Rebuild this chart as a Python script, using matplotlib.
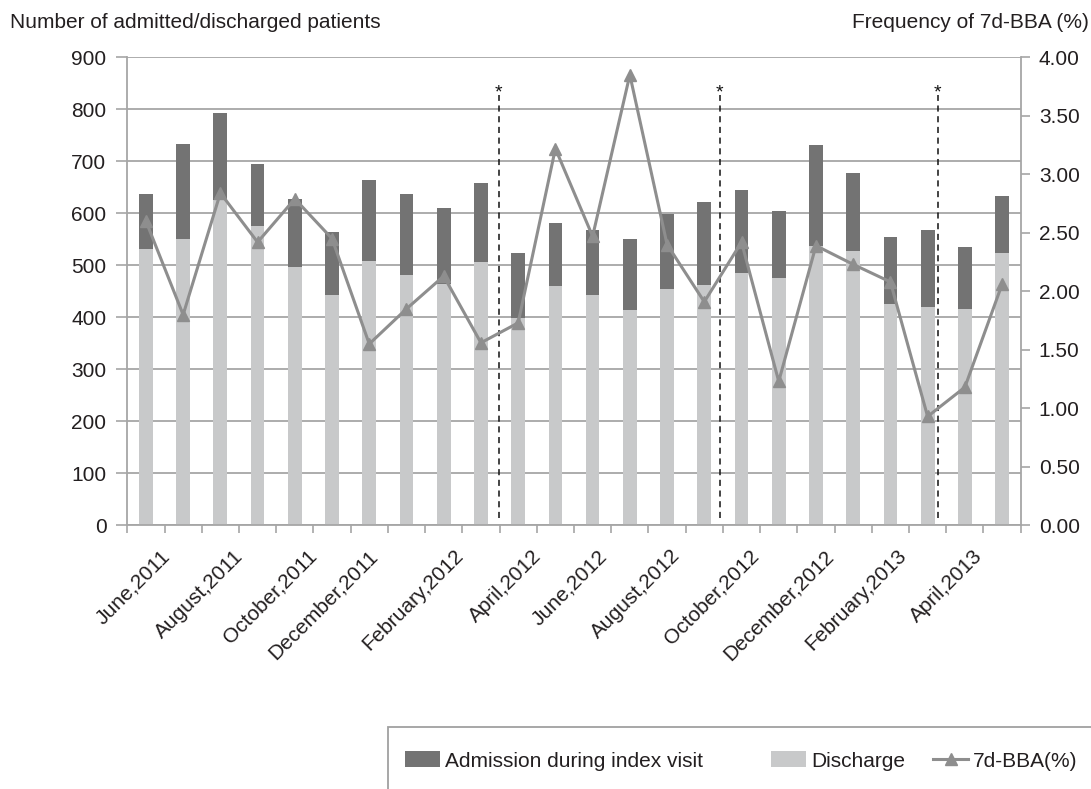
import matplotlib
matplotlib.use("Agg")
import matplotlib.pyplot as plt
from matplotlib.patches import Patch, Rectangle
from matplotlib.lines import Line2D
from matplotlib.transforms import ScaledTranslation
import numpy as np

plt.rcParams['font.family'] = ['Liberation Sans', 'DejaVu Sans']

months = ['June,2011', 'July,2011', 'August,2011', 'September,2011', 'October,2011',
          'November,2011', 'December,2011', 'January,2012', 'February,2012', 'March,2012',
          'April,2012', 'May,2012', 'June,2012', 'July,2012', 'August,2012',
          'September,2012', 'October,2012', 'November,2012', 'December,2012',
          'January,2013', 'February,2013', 'March,2013', 'April,2013', 'May,2013']
discharge = [531, 551, 626, 576, 496, 443, 509, 481, 464, 506, 399, 461,
             443, 414, 454, 463, 486, 476, 537, 528, 426, 420, 416, 523]
admission = [106, 182, 167, 119, 132, 122, 156, 156, 146, 152, 124, 121,
             125, 137, 145, 159, 159, 129, 195, 149, 129, 148, 119, 110]
bba = [2.60, 1.80, 2.84, 2.42, 2.79, 2.45, 1.55, 1.85, 2.13, 1.56, 1.73, 3.22,
       2.47, 3.85, 2.40, 1.91, 2.42, 1.23, 2.39, 2.23, 2.08, 0.93, 1.18, 2.06]
shown_labels = ['June,2011', 'August,2011', 'October,2011', 'December,2011',
                'February,2012', 'April,2012', 'June,2012', 'August,2012',
                'October,2012', 'December,2012', 'February,2013', 'April,2013']
left_ticks = [0, 100, 200, 300, 400, 500, 600, 700, 800, 900]
right_ticks = [0.0, 0.5, 1.0, 1.5, 2.0, 2.5, 3.0, 3.5, 4.0]
intervention_x = [9.48, 15.41, 21.27]

# small per-label horizontal nudges (pixels) to mimic the original label placement
label_dx = [-4, -6, -6, -20, -9, -5, -14, -15, -11, -11, -12, -11]

W, H = 1091, 789
fig = plt.figure(figsize=(W / 100, H / 100), dpi=100)
ax = fig.add_axes([127.3 / W, 1 - 525.3 / H, (1020.7 - 127.3) / W, (525.3 - 57.3) / H])

DARK = '#737373'
LIGHT = '#c8c9ca'
LINEC = '#8e8e8e'
GRID = '#a6a6a6'
TXT = '#231f20'
FS = 15

x = np.arange(len(months))
ax.bar(x, discharge, width=0.37, color=LIGHT, zorder=2)
ax.bar(x, admission, width=0.37, bottom=discharge, color=DARK, zorder=2)

ax.set_xlim(-0.5, len(months) - 0.5)
ax.set_ylim(0, 900)
ax.set_yticks(left_ticks)
ax.set_yticklabels([str(v) for v in left_ticks], fontsize=FS, color=TXT)
ax.yaxis.grid(True, color=GRID, linewidth=1.3, zorder=0)
ax.set_axisbelow(True)

boundaries = np.arange(-0.5, len(months), 1.0)
ax.set_xticks(boundaries)
lbls = []
for b in boundaries:
    i = int(round(b - 0.5))
    if 0 <= i < len(months) and months[i] in shown_labels:
        lbls.append(months[i])
    else:
        lbls.append('')
ax.set_xticklabels(lbls, rotation=45, ha='right', va='top', rotation_mode='anchor',
                   fontsize=FS, color=TXT)
ax.tick_params(axis='x', direction='out', length=6, width=1.2, color=GRID, pad=9)
ax.tick_params(axis='y', direction='out', length=8, width=1.2, color=GRID, pad=7)

k = 0
for t in ax.get_xticklabels():
    if t.get_text():
        t.set_transform(t.get_transform() +
                        ScaledTranslation(label_dx[k] / 100, 0, fig.dpi_scale_trans))
        k += 1

for s in ['left', 'bottom', 'right']:
    ax.spines[s].set_color(GRID)
    ax.spines[s].set_linewidth(1.3)
ax.spines['top'].set_visible(False)

for xv in intervention_x:
    ax.plot([xv, xv], [15, 828], linestyle=(0, (4, 3)), color='#111111', linewidth=1.1, zorder=3)
    ax.text(xv, 822, '*', ha='center', va='baseline', fontsize=14, color='#111111', zorder=3)

ax2 = ax.twinx()
ax2.set_ylim(0, 4)
ax2.set_yticks(right_ticks)
ax2.set_yticklabels(['%.2f' % v for v in right_ticks], fontsize=FS, color=TXT)
ax2.tick_params(axis='y', direction='out', length=6.5, width=1.2, color=GRID, pad=6.5)
for s in ax2.spines.values():
    s.set_visible(False)
ax2.plot(x, bba, color=LINEC, linewidth=2.2, marker='^', markersize=9,
         markerfacecolor=LINEC, markeredgecolor=LINEC, zorder=5)

fig.text(10 / W, 1 - 28.3 / H, 'Number of admitted/discharged patients', ha='left',
         va='baseline', fontsize=FS, color=TXT)
fig.text(1089 / W, 1 - 28.3 / H, 'Frequency of 7d-BBA (%)', ha='right',
         va='baseline', fontsize=FS, color=TXT)

# legend frame (extends beyond figure edges)
fig.patches.append(Rectangle((388 / W, 1 - 800 / H), (1100 - 388) / W, (800 - 727) / H,
                             transform=fig.transFigure, fill=False, edgecolor='#a0a0a0',
                             linewidth=1.3, clip_on=False))

h1 = [Patch(facecolor=DARK, edgecolor='none', label='Admission during index visit')]
h2 = [Patch(facecolor=LIGHT, edgecolor='none', label='Discharge'),
      Line2D([0], [0], color=LINEC, linewidth=2.2, marker='^', markersize=8,
             markerfacecolor=LINEC, markeredgecolor=LINEC, label='7d-BBA(%)')]
common = dict(frameon=False, fontsize=FS, handlelength=1.68, handleheight=0.77,
              handletextpad=0.25, borderpad=0, borderaxespad=0, labelcolor=TXT)
leg1 = fig.legend(handles=h1, loc='center left', bbox_to_anchor=(405 / W, 1 - 761 / H),
                  **common)
leg2 = fig.legend(handles=h2, loc='center left', bbox_to_anchor=(770.7 / W, 1 - 761 / H),
                  ncol=2, columnspacing=1.35, **common)

fig.savefig('out.png', dpi=100)
